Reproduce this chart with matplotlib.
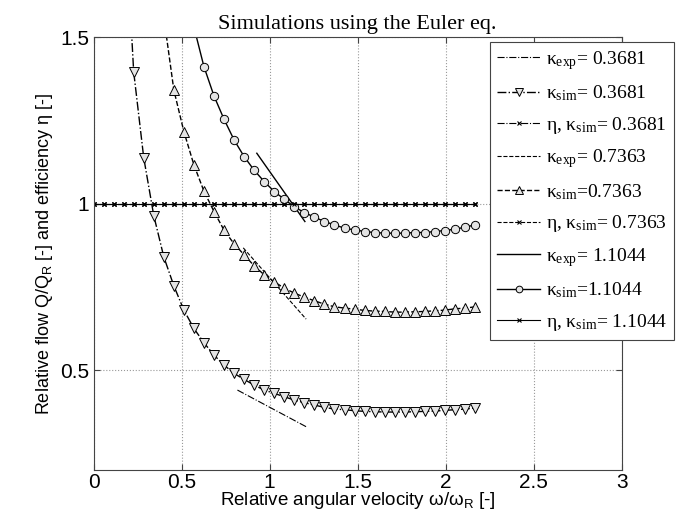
import matplotlib
matplotlib.use('Agg')
import matplotlib.pyplot as plt

plt.rcParams['font.family'] = ['Liberation Sans', 'DejaVu Sans']
plt.rcParams['mathtext.default'] = 'regular'

# relative angular velocity grid used by the simulations
omega = [0.000, 0.057, 0.114, 0.171, 0.228, 0.285, 0.342, 0.399, 0.456, 0.513,
         0.570, 0.627, 0.684, 0.741, 0.798, 0.855, 0.912, 0.969, 1.026, 1.083,
         1.140, 1.197, 1.254, 1.311, 1.368, 1.425, 1.482, 1.539, 1.596, 1.653,
         1.710, 1.767, 1.824, 1.881, 1.938, 1.995, 2.052, 2.109, 2.166]

# simulated relative flow, each curve starts at a different omega index
start_1 = 3
sim_1 = [1.95, 1.396, 1.138, 0.964, 0.84, 0.753, 0.68, 0.625, 0.582, 0.545,
         0.515, 0.49, 0.472, 0.455, 0.44, 0.43, 0.42, 0.41, 0.402, 0.395,
         0.388, 0.383, 0.381, 0.378, 0.376, 0.375, 0.374, 0.374, 0.374, 0.375,
         0.376, 0.377, 0.379, 0.381, 0.383, 0.386]
start_2 = 6
sim_2 = [1.9, 1.56, 1.341, 1.216, 1.116, 1.037, 0.976, 0.92, 0.879, 0.846,
         0.813, 0.786, 0.765, 0.746, 0.731, 0.719, 0.708, 0.698, 0.69, 0.686,
         0.683, 0.679, 0.677, 0.676, 0.674, 0.674, 0.675, 0.676, 0.678, 0.68,
         0.684, 0.686, 0.69]
start_3 = 9
sim_3 = [1.7, 1.53, 1.411, 1.323, 1.253, 1.191, 1.141, 1.10, 1.066, 1.036,
         1.013, 0.99, 0.973, 0.959, 0.946, 0.936, 0.926, 0.921, 0.916, 0.913,
         0.911, 0.911, 0.911, 0.913, 0.913, 0.916, 0.919, 0.923, 0.929, 0.936]

# efficiency (all equal to one)
eta = [1.0] * len(omega)

# experimental lines (two end points each)
exp_1_x = [0.817, 1.207]
exp_1_y = [0.44, 0.33]
exp_2_x = [0.85, 1.207]
exp_2_y = [0.867, 0.653]
exp_3_x = [0.927, 1.20]
exp_3_y = [1.151, 0.946]

kappas = ['0.3681', '0.7363', '1.1044']
xticks = [0, 0.5, 1, 1.5, 2, 2.5, 3]
xticklabels = ['0', '0.5', '1', '1.5', '2', '2.5', '3']
yticks = [0.5, 1, 1.5]
yticklabels = ['0.5', '1', '1.5']

serif = ['Liberation Serif', 'DejaVu Serif']

fig = plt.figure(figsize=(6.81, 5.15), dpi=100)
ax = fig.add_axes([93.5 / 681, 1 - 470 / 515, (622 - 93.5) / 681, (470 - 37) / 515])

face = '#e4e4e4'
ax.plot(exp_1_x, exp_1_y, color='k', ls='-.', lw=0.8,
        label=r'$\kappa_{exp}$= ' + kappas[0])
ax.plot(omega[start_1:], sim_1, color='k', ls='-.', lw=1.0, marker='v', ms=6.5,
        mfc=face, mec='k', mew=0.7, label=r'$\kappa_{sim}$= ' + kappas[0])
ax.plot(omega, eta, color='k', ls='-.', lw=0.8, marker='x', ms=3.5, mew=0.8,
        label=r'$\eta$, $\kappa_{sim}$= ' + kappas[0])

ax.plot(exp_2_x, exp_2_y, color='k', ls='--', lw=0.8,
        label=r'$\kappa_{exp}$= ' + kappas[1])
ax.plot(omega[start_2:], sim_2, color='k', ls='--', lw=1.0, marker='^', ms=6.5,
        mfc=face, mec='k', mew=0.7, label=r'$\kappa_{sim}$=' + kappas[1])
ax.plot(omega, eta, color='k', ls='--', lw=0.8, marker='x', ms=3.5, mew=0.8,
        label=r'$\eta$, $\kappa_{sim}$= ' + kappas[1])

ax.plot(exp_3_x, exp_3_y, color='k', ls='-', lw=1.0,
        label=r'$\kappa_{exp}$= ' + kappas[2])
ax.plot(omega[start_3:], sim_3, color='k', ls='-', lw=1.0, marker='o', ms=6,
        mfc=face, mec='k', mew=0.7, label=r'$\kappa_{sim}$=' + kappas[2])
ax.plot(omega, eta, color='k', ls='-', lw=0.8, marker='x', ms=3.5, mew=0.8,
        label=r'$\eta$, $\kappa_{sim}$= ' + kappas[2])

ax.set_xlim(0, 3)
ax.set_ylim(0.2, 1.5)
ax.set_xticks(xticks)
ax.set_xticklabels(xticklabels)
ax.set_yticks(yticks)
ax.set_yticklabels(yticklabels)
ax.tick_params(direction='in', top=True, right=True, labelsize=15, length=4,
               color='#444444')
ax.tick_params(axis='x', pad=2)
ax.tick_params(axis='y', pad=3)
ax.grid(True, ls=':', color='#999999', lw=0.8)
for s in ax.spines.values():
    s.set_color('#444444')
    s.set_linewidth(0.8)

ax.set_xlabel(r'Relative angular velocity $\omega/\omega_R$ [-]',
              fontsize=13.5, labelpad=-1)
ax.set_ylabel(r'Relative flow Q/Q$_R$ [-] and efficiency $\eta$ [-]',
              fontsize=13, labelpad=4)
ax.set_title('Simulations using the Euler eq.', fontsize=16, family=serif, pad=6)

leg = ax.legend(loc='upper right', bbox_to_anchor=(674 / 681, 1 - 42 / 515),
                bbox_transform=fig.transFigure, borderaxespad=0,
                prop={'family': serif, 'size': 14},
                handlelength=2.2, handletextpad=0.3, labelspacing=0.6,
                fancybox=False, framealpha=1, edgecolor='#444444',
                borderpad=0.35, markerscale=0.8)
leg.get_frame().set_linewidth(0.8)

fig.savefig('out.png', dpi=100)
